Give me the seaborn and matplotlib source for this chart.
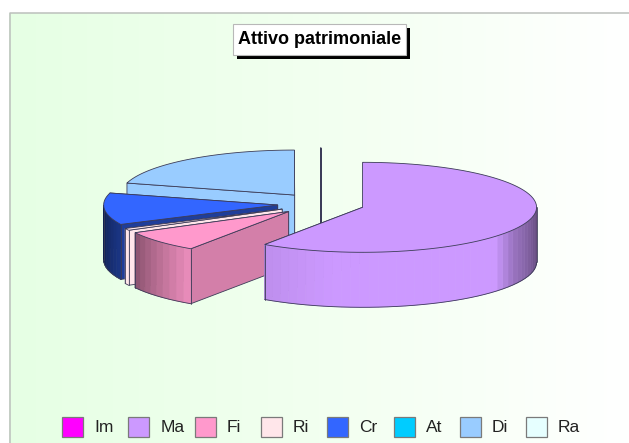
# -*- coding: utf-8 -*-
"""
Attivo patrimoniale: exploded pie with a fake 3D look
"""
import numpy as np
import matplotlib
matplotlib.use('Agg')
import matplotlib.pyplot as plt
from matplotlib.patches import Polygon, Rectangle
from matplotlib.colors import LinearSegmentedColormap
import seaborn as sns

#%% data
labels = ['Im', 'Ma', 'Fi', 'Ri', 'Cr', 'At', 'Di', 'Ra']
shares = [0.0, 59.5, 7.7, 0.7, 11.4, 0.0, 20.68, 0.02]
colors = ['#FF00FF', '#CC99FF', '#FF99CC', '#FFE6EA', '#3366FF', '#00CCFF', '#99CCFF', '#E6FFFF']
title = 'Attivo patrimoniale'

#%% style, all in pixels
W, H = 629, 443
cx, cy = 321, 204
rx, ry = 174, 45
depth = 55
explode = 0.25
edge = '#3c3c58'

sns.set_theme(style='white')
plt.rcParams['font.family'] = ['Liberation Sans', 'DejaVu Sans']
palette = sns.color_palette(colors)

fig = plt.figure(figsize=(W / 100, H / 100), dpi=100, facecolor='white')
ax = fig.add_axes([0, 0, 1, 1])

# panel background, pale green fading to white
bg = LinearSegmentedColormap.from_list('bg', ['#e6ffe4', '#f2fff0', '#ffffff'])
ax.imshow(np.linspace(0, 1, 256)[None, :], extent=[9, W, H, 13], cmap=bg, aspect='auto', zorder=0)
ax.plot([9.5, 9.5, W], [H, 12.5, 12.5], color='#bcc0bc', lw=1.1, zorder=1)


def rim(theta, x0, y0, dy=0):
    t = np.radians(theta)
    return np.c_[x0 + rx * np.sin(t), y0 - ry * np.cos(t) + dy]


def shaded(c, s):
    # the very pale slices hardly darken at all
    if min(c) > 0.85:
        s = 1
    return tuple(np.clip(np.array(c) * s, 0, 1))


def wall_shade(theta):
    return np.interp(theta, [90, 120, 131, 190, 214, 241, 270], [0.45, 0.75, 1, 1, 0.93, 0.55, 0.3])


def face_shade(theta):
    return np.interp(theta, [214, 244, 285], [0.83, 0.6, 1])


#%% slices, clockwise from twelve o'clock, back ones first
ends = np.cumsum(shares) / np.sum(shares) * 360
starts = ends - np.array(shares) / np.sum(shares) * 360

for i in reversed(range(len(labels))):
    if shares[i] == 0:
        continue
    t0, t1 = starts[i], ends[i]
    mid = np.radians((t0 + t1) / 2)
    x0 = cx + explode * rx * np.sin(mid)
    y0 = cy - explode * ry * np.cos(mid)
    c = palette[i]
    apex = np.array([x0, y0])
    down = np.array([0, depth])

    # radial sides
    for t in (t1, t0):
        p = rim(t, x0, y0)[0]
        ax.add_patch(Polygon([apex, p, p + down, apex + down], closed=True, facecolor=shaded(c, face_shade(t)),
                             edgecolor=edge, lw=0.6, zorder=2))

    # outer wall, only the part facing us, in flat bands
    a, b = max(t0, 90), min(t1, 270)
    if b > a:
        grid = np.linspace(a, b, max(int((b - a) / 3), 1) + 1)
        for g0, g1 in zip(grid[:-1], grid[1:]):
            up = rim(np.array([g0, g1]), x0, y0)
            ax.add_patch(Polygon(np.vstack([up, up[::-1] + down]), closed=True, lw=0.5, zorder=2,
                                 facecolor=shaded(c, wall_shade((g0 + g1) / 2)),
                                 edgecolor=shaded(c, wall_shade((g0 + g1) / 2))))
        arc = rim(grid, x0, y0, depth)
        ax.plot(arc[:, 0], arc[:, 1], color=edge, lw=0.6, zorder=2)
        ax.plot([arc[0, 0]] * 2, [arc[0, 1] - depth, arc[0, 1]], color=edge, lw=0.6, zorder=2)
        ax.plot([arc[-1, 0]] * 2, [arc[-1, 1] - depth, arc[-1, 1]], color=edge, lw=0.6, zorder=2)

    # top
    top = rim(np.linspace(t0, t1, 80), x0, y0)
    ax.add_patch(Polygon(np.vstack([apex, top]), closed=True, facecolor=c, edgecolor=edge, lw=0.6, zorder=2))

#%% title box with hard shadow
ax.add_patch(Rectangle((237, 28), 173, 31, facecolor='black', edgecolor='none', zorder=3))
ax.add_patch(Rectangle((233, 24), 173, 31, facecolor='white', edgecolor='#b8b8b8', lw=0.8, zorder=4))
ax.text(319.5, 39.5, title, fontsize=13, fontweight='bold', color='black', ha='center', va='center', zorder=5)

#%% legend
for i, lab in enumerate(labels):
    x = 62 + i * 66.3
    ax.add_patch(Rectangle((x, 416.7), 21, 20.6, facecolor=palette[i], edgecolor='#7a7a7a', lw=0.9, zorder=3))
    ax.text(x + 32, 427.3, lab, fontsize=12.5, color='#222222', ha='left', va='center', zorder=3)

ax.set_xlim(0, W)
ax.set_ylim(H, 0)
ax.set_axis_off()

fig.savefig('out.png', dpi=100, facecolor='white')
